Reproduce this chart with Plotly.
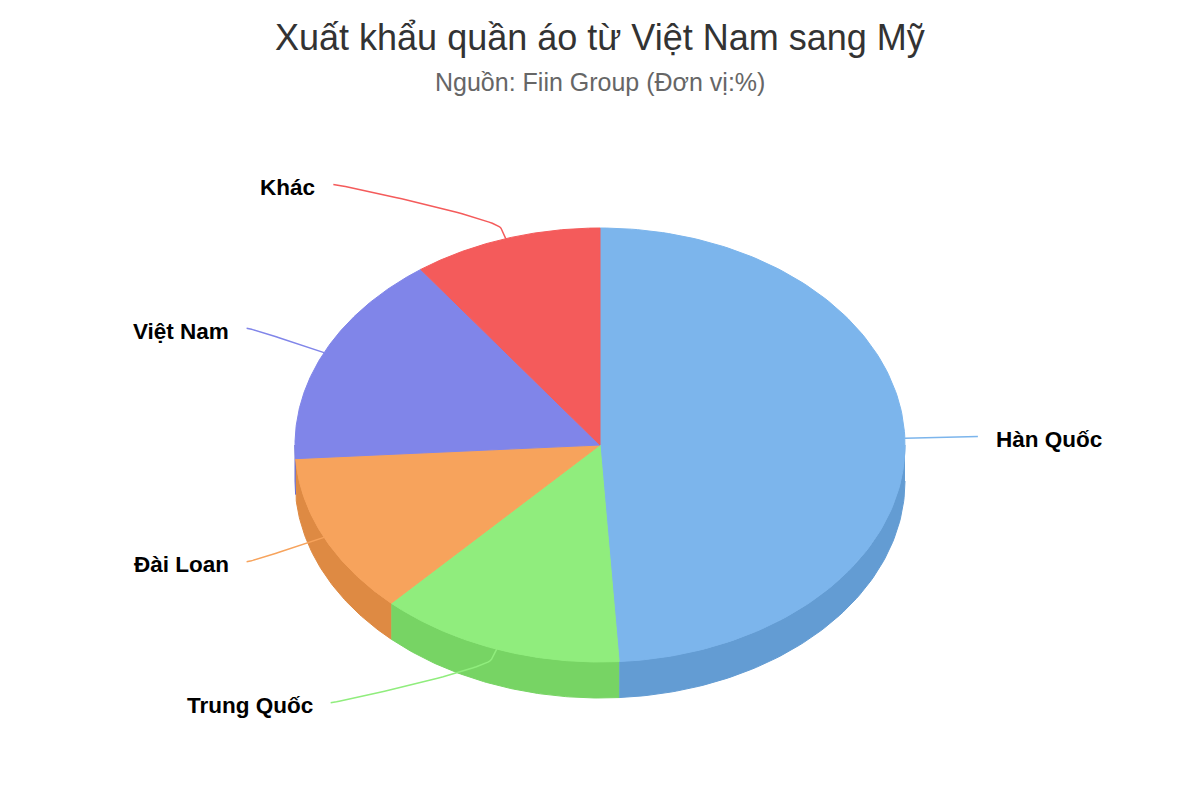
import numpy as np
import plotly.graph_objects as go

# Data (share in %)
labels = ["Hàn Quốc", "Trung Quốc", "Đài Loan", "Việt Nam", "Khác"]
values = [49, 13, 12, 16, 10]
colors = ["#7cb5ec", "#90ed7d", "#f7a35c", "#8085e9", "#f45b5b"]

title = "Xuất khẩu quần áo từ Việt Nam sang Mỹ"
subtitle = "Nguồn: Fiin Group (Đơn vị:%)"

# 3D pie geometry (in page pixels)
cx, cy = 600, 445
rx, ry = 305, 217
depth = 36
label_rx, label_ry = 375, 274


def darker(hex_color, amount=25):
    r, g, b = (int(hex_color[i:i + 2], 16) for i in (1, 3, 5))
    r, g, b = (max(0, c - amount) for c in (r, g, b))
    return "#%02x%02x%02x" % (r, g, b)


def ellipse_pt(theta, scale=1.0, dy=0.0):
    return cx + rx * scale * np.sin(theta), cy - ry * scale * np.cos(theta) + dy


fig = go.Figure()

total = sum(values)
bounds = np.concatenate([[0], np.cumsum(values)]) / total * 2 * np.pi

# side walls (only front half is visible)
for i, lab in enumerate(labels):
    a, b = bounds[i], bounds[i + 1]
    lo, hi = max(a, np.pi / 2), min(b, 3 * np.pi / 2)
    if hi <= lo:
        continue
    t = np.linspace(lo, hi, 80)
    xt, yt = ellipse_pt(t)
    xb, yb = ellipse_pt(t[::-1], dy=depth)
    fig.add_trace(go.Scatter(
        x=np.concatenate([xt, xb]), y=np.concatenate([yt, yb]),
        fill="toself", mode="lines", fillcolor=darker(colors[i]),
        line=dict(color=darker(colors[i]), width=1),
        hoverinfo="skip", showlegend=False))

# top faces
for i, lab in enumerate(labels):
    a, b = bounds[i], bounds[i + 1]
    t = np.linspace(a, b, 150)
    xt, yt = ellipse_pt(t)
    fig.add_trace(go.Scatter(
        x=np.concatenate([[cx], xt, [cx]]), y=np.concatenate([[cy], yt, [cy]]),
        fill="toself", mode="lines", fillcolor=colors[i],
        line=dict(color=colors[i], width=1),
        name=lab, text="%s: %d%%" % (lab, values[i]), hoverinfo="text",
        hoveron="fills", showlegend=False))

# connectors + labels
for i, lab in enumerate(labels):
    mid = (bounds[i] + bounds[i + 1]) / 2
    tx, ty = ellipse_pt(mid)
    bx, by = ellipse_pt(mid, scale=1.05)
    yl = cy - label_ry * np.cos(mid)
    right = np.sin(mid) >= 0
    side = 1 if right else -1
    xl = cx + 3 + side * np.sqrt(label_rx ** 2 - (yl - cy) ** 2)
    # cubic bezier from label end to break point, then straight to the slice
    p0 = np.array([xl, yl])
    p1 = np.array([xl - side * 5, yl])
    p2 = np.array([2 * bx - tx, 2 * by - ty])
    p3 = np.array([bx, by])
    s = np.linspace(0, 1, 40)[:, None]
    curve = ((1 - s) ** 3) * p0 + 3 * ((1 - s) ** 2) * s * p1 + 3 * (1 - s) * s ** 2 * p2 + s ** 3 * p3
    xs = np.append(curve[:, 0], tx)
    ys = np.append(curve[:, 1], ty)
    fig.add_trace(go.Scatter(x=xs, y=ys, mode="lines",
                             line=dict(color=colors[i], width=1.5),
                             hoverinfo="skip", showlegend=False))
    fig.add_annotation(x=xl + side * 16, y=yl + 3, text="<b>%s</b>" % lab,
                       showarrow=False, xanchor="left" if right else "right",
                       font=dict(size=22.5, color="#000000"))

fig.add_annotation(x=600, y=37, text=title, showarrow=False,
                   font=dict(size=36, color="#333333"))
fig.add_annotation(x=600, y=82, text=subtitle, showarrow=False,
                   font=dict(size=25, color="#666666"))

# page body has an 8px margin, so shift the axis window to keep page pixels
fig.update_layout(
    width=1200, height=800,
    margin=dict(l=0, r=0, t=0, b=0),
    paper_bgcolor="white", plot_bgcolor="white",
    font=dict(family="Liberation Sans, Arial, sans-serif"),
    xaxis=dict(range=[8, 1208], visible=False, fixedrange=True),
    yaxis=dict(range=[808, 8], visible=False, fixedrange=True),
)

fig.write_html("out.html")
